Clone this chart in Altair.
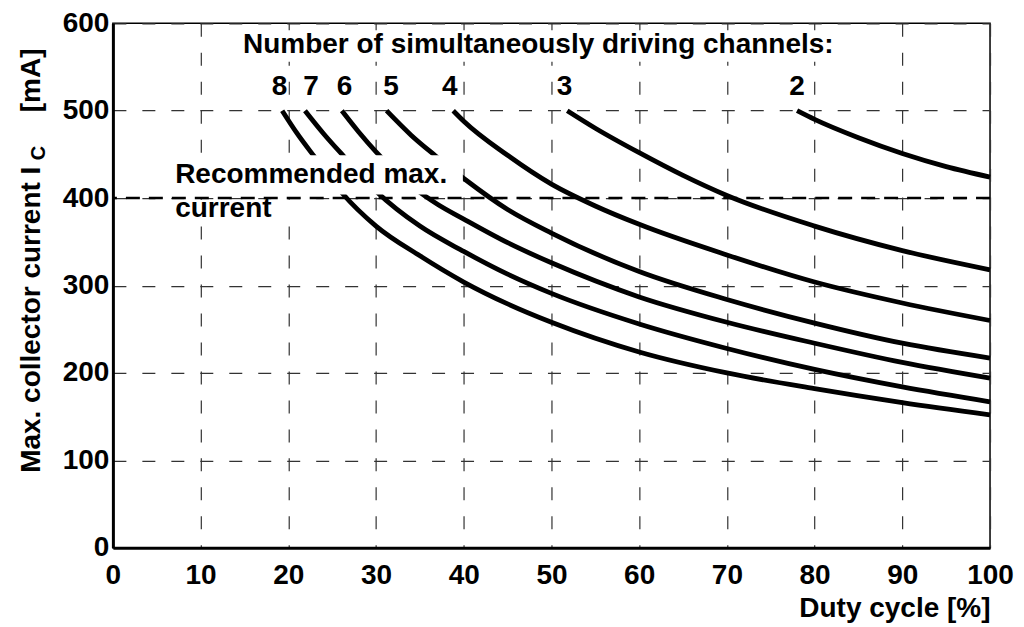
import altair as alt
import pandas as pd

FONT = "Liberation Sans"
WEIGHT = "bold"

# ---- data ----
channels = ["8", "7", "6", "5", "4", "3", "2"]

duty_8 = [19.3, 21.0, 23.0, 26.2, 30.0, 35.0, 40.0, 45.0, 50.0, 60.0, 70.0, 80.0, 90.0, 100.0]
curr_8 = [500, 474, 447, 405, 368, 334, 304, 279, 258, 224, 200, 182, 166, 152]

duty_7 = [21.9, 24.0, 26.4, 30.1, 35.0, 40.0, 45.0, 50.0, 60.0, 70.0, 80.0, 90.0, 100.0]
curr_7 = [500, 474, 447, 407, 368, 339, 313, 291, 256, 228, 204, 184, 167]

duty_6 = [26.1, 28.0, 30.0, 34.3, 37.0, 40.0, 45.0, 50.0, 60.0, 70.0, 80.0, 90.0, 100.0]
curr_6 = [500, 476, 453, 412, 393, 376, 349, 326, 287, 258, 234, 212, 194]

duty_5 = [31.2, 34.0, 36.7, 40.2, 45.0, 50.0, 60.0, 70.0, 80.0, 90.0, 100.0]
curr_5 = [500, 472, 449, 421, 387, 360, 316, 284, 257, 234, 217]

duty_4 = [38.8, 40.0, 45.0, 50.0, 55.0, 60.0, 70.0, 80.0, 90.0, 100.0]
curr_4 = [500, 488, 449, 416, 391, 370, 335, 304, 280, 260]

duty_3 = [51.8, 55.0, 60.0, 65.0, 70.0, 80.0, 90.0, 100.0]
curr_3 = [500, 480, 452, 426, 403, 368, 340, 318]

duty_2 = [78.0, 80.0, 85.0, 90.0, 95.0, 100.0]
curr_2 = [500, 490, 469, 451, 436, 424]

recommended_max = [400]

x_ticks = [0, 10, 20, 30, 40, 50, 60, 70, 80, 90, 100]
y_ticks = [0, 100, 200, 300, 400, 500, 600]

# annotation texts and where they sit (data coordinates)
label_text = channels
label_x = [19.0, 22.6, 26.4, 31.7, 38.4, 51.5, 78.0]
label_y = [518] * 7

title_text = ["Number of simultaneously driving channels:"]
title_x = [48.5]
title_y = [566]

note_text = ["Recommended max.", "current"]
note_x = [7.1, 7.1]
note_y = [417, 378]

# white backgrounds behind texts (data coordinates)
box_x = [14.0, 6.5, 6.5]
box_x2 = [83.0, 39.9, 25.0]
box_y = [556, 404, 372]
box_y2 = [592, 449, 398]

# ---- tables ----
duties = [duty_8, duty_7, duty_6, duty_5, duty_4, duty_3, duty_2]
currs = [curr_8, curr_7, curr_6, curr_5, curr_4, curr_3, curr_2]
rows = []
for ch, xs, ys in zip(channels, duties, currs):
    for i, (xv, yv) in enumerate(zip(xs, ys)):
        rows.append({"channels": ch, "duty": xv, "current": yv, "order": i})
curves_df = pd.DataFrame(rows)

labels_df = pd.DataFrame({"duty": label_x, "current": label_y, "text": label_text})
label_boxes_df = pd.DataFrame({
    "duty": [v - 1.0 for v in label_x],
    "duty2": [v + 1.0 for v in label_x],
    "current": [512] * 7,
    "current2": [541] * 7,
})
title_df = pd.DataFrame({"duty": title_x, "current": title_y, "text": title_text})
notes_df = pd.DataFrame({"duty": note_x, "current": note_y, "text": note_text})
boxes_df = pd.DataFrame({"duty": box_x, "duty2": box_x2, "current": box_y, "current2": box_y2})
rule_df = pd.DataFrame({"current": recommended_max})

W, H = 878, 525
FS = 28

xscale = alt.Scale(domain=[0, 100], nice=False, zero=False)
yscale = alt.Scale(domain=[0, 600], nice=False, zero=False)

xaxis = alt.Axis(
    values=x_ticks, title="Duty cycle [%]", titleAnchor="end", titleAlign="right",
    titleBaseline="alphabetic", titleX=W, titleY=69, ticks=False, labelPadding=14,
    labelFlush=False, labelOverlap=False,
    domainColor="black", domainWidth=3,
    grid=True, gridDash=[13, 16], gridColor="#333333", gridWidth=1.2,
)
yaxis = alt.Axis(
    values=y_ticks, title="Max.  collector current I", titleAngle=270, titleAlign="right",
    titleBaseline="alphabetic", titleX=-73, titleY=143, ticks=False, labelPadding=4,
    labelFlush=False, labelOverlap=False,
    domainColor="black", domainWidth=3,
    grid=True, gridDash=[13, 16], gridColor="#333333", gridWidth=1.2,
)

X = alt.X("duty:Q", scale=xscale, axis=xaxis)
Y = alt.Y("current:Q", scale=yscale, axis=yaxis)

curves = alt.Chart(curves_df).mark_line(
    color="black", strokeWidth=4.8, interpolate="monotone", strokeCap="butt"
).encode(x=X, y=Y, detail="channels:N", order="order:Q")

boxes = alt.Chart(boxes_df).mark_rect(color="white").encode(
    x=X, x2="duty2:Q", y=Y, y2="current2:Q"
)
label_boxes = alt.Chart(label_boxes_df).mark_rect(color="white").encode(
    x=X, x2="duty2:Q", y=Y, y2="current2:Q"
)

rule = alt.Chart(rule_df).mark_rule(
    color="black", strokeWidth=2.5, strokeDash=[14, 9]
).encode(y=Y)

txt_kw = dict(font=FONT, fontSize=FS, fontWeight=WEIGHT, color="black", baseline="alphabetic")
labels = alt.Chart(labels_df).mark_text(align="center", **txt_kw).encode(x=X, y=Y, text="text:N")
title = alt.Chart(title_df).mark_text(align="center", **txt_kw).encode(x=X, y=Y, text="text:N")
notes = alt.Chart(notes_df).mark_text(align="left", **txt_kw).encode(x=X, y=Y, text="text:N")

one = alt.Data(values=[{"k": 1}])
sub_c = alt.Chart(one).mark_text(
    text="C", angle=270, align="left", font=FONT, fontSize=20, fontWeight=WEIGHT,
    color="black", baseline="alphabetic"
).encode(x=alt.value(-68), y=alt.value(137))
unit = alt.Chart(one).mark_text(
    text="[mA]", angle=270, align="left", font=FONT, fontSize=FS, fontWeight=WEIGHT,
    color="black", baseline="alphabetic"
).encode(x=alt.value(-73), y=alt.value(89))

chart = alt.layer(
    curves, boxes, label_boxes, rule, labels, title, notes, sub_c, unit
).properties(
    width=W, height=H,
    autosize=alt.AutoSizeParams(type="none"),
    padding={"left": 105, "top": 15, "right": 26, "bottom": 80},
).configure_view(
    stroke="black", strokeWidth=1.5
).configure_axis(
    labelFont=FONT, titleFont=FONT, labelFontSize=FS, titleFontSize=FS,
    labelFontWeight=WEIGHT, titleFontWeight=WEIGHT,
    labelColor="black", titleColor="black",
)

chart.save("out.html", embed_options={"renderer": "svg", "actions": False})
